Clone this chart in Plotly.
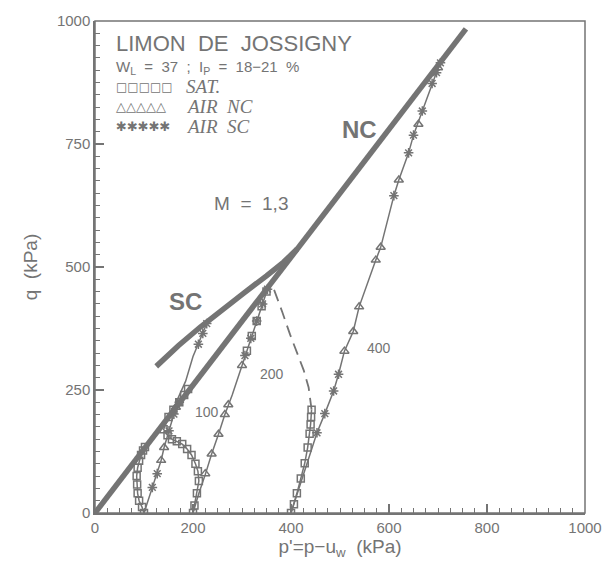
import plotly.graph_objects as go

GRAY = "#747474"
NB = "\u00a0"

# Critical state line NC (M = 1.3)
nc_p = [0, 757]
nc_q = [0, 984]

# SC envelope
sc_p = [125, 170, 215, 260, 305, 350, 385, 412]
sc_q = [298, 340, 378, 414, 448, 482, 510, 536]

# Air tests (drained, slope 3) with p0 = 100, 200, 400
air100_p = [100, 117, 127, 135, 141, 151, 161, 167, 185, 200, 211, 220, 228]
air100_q = [0, 52, 80, 107, 133, 167, 201, 228, 268, 318, 343, 365, 385]
air200_p = [200, 212, 225, 238, 252, 265, 280, 295, 306, 318, 330, 342, 352, 358]
air200_q = [0, 40, 78, 120, 160, 200, 240, 285, 320, 355, 390, 425, 455, 466]
air400_p = [400, 453, 469, 487, 497, 509, 527, 539, 573, 583, 610, 620, 640, 650, 668, 688, 697, 703]
air400_q = [0, 163, 202, 248, 282, 329, 369, 419, 514, 540, 645, 677, 732, 768, 817, 873, 895, 912]

# Air NC markers (triangles)
tri_p = [135, 141, 165, 225, 238, 252, 265, 272, 300, 509, 527, 539, 573, 583, 620, 660, 700]
tri_q = [107, 133, 215, 80, 120, 160, 200, 220, 300, 329, 369, 419, 514, 540, 677, 790, 905]
# Air SC markers (asterisks)
star_p = [117, 127, 151, 161, 172, 211, 220, 228, 306, 318, 330, 342, 352, 453, 469, 487, 497, 610, 640, 650, 668, 688, 697, 705]
star_q = [52, 80, 167, 201, 225, 343, 365, 385, 320, 355, 390, 425, 455, 163, 202, 248, 282, 645, 732, 768, 817, 873, 895, 915]

# Saturated (undrained) paths
sat100_p = [100, 96, 90, 87, 86, 85, 87, 90, 94, 98, 102]
sat100_q = [0, 12, 25, 40, 58, 75, 92, 106, 118, 127, 134]
sat200_p = [200, 203, 208, 212, 210, 205, 197, 188, 178, 167, 157, 148, 140, 150, 160, 172, 182, 190]
sat200_q = [0, 15, 40, 65, 85, 100, 118, 130, 140, 146, 150, 158, 170, 195, 210, 225, 240, 252]
sat200b_p = [310, 320, 330, 340, 350]
sat200b_q = [330, 360, 390, 420, 450]
sat400_p = [400, 406, 412, 420, 428, 434, 438, 440, 441, 442]
sat400_q = [0, 18, 40, 70, 101, 133, 161, 180, 195, 210]
dash400_p = [442, 436, 426, 414, 398, 382, 365]
dash400_q = [210, 255, 290, 320, 363, 409, 455]

x_ticks = [0, 200, 400, 600, 800, 1000]
y_ticks = [0, 250, 500, 750, 1000]

fig = go.Figure()

def line(p, q, width, dash="solid"):
    fig.add_trace(go.Scatter(x=p, y=q, mode="lines",
                             line=dict(color=GRAY, width=width, dash=dash),
                             showlegend=False, hoverinfo="skip"))

def marks(p, q, symbol, size=8):
    fig.add_trace(go.Scatter(x=p, y=q, mode="markers",
                             marker=dict(symbol=symbol, size=size, color=GRAY,
                                         line=dict(color=GRAY, width=1.5)),
                             showlegend=False, hoverinfo="skip"))

line(nc_p, nc_q, 5.5)
line(sc_p, sc_q, 5.5)
line(air100_p, air100_q, 1.5)
line(air200_p, air200_q, 1.5)
line(air400_p, air400_q, 1.5)
line(sat100_p, sat100_q, 1.5)
line(sat200_p, sat200_q, 1.5)
line(sat400_p, sat400_q, 1.5)
line(dash400_p, dash400_q, 1.8, dash="12px,7px")

marks(sat100_p, sat100_q, "square-open", 7)
marks(sat200_p, sat200_q, "square-open", 7)
marks(sat200b_p, sat200b_q, "square-open", 7)
marks(sat400_p, sat400_q, "square-open", 7)
marks(tri_p, tri_q, "triangle-up-open", 8)
marks(star_p, star_q, "asterisk-open", 8)

def txt(x, y, s, size, family="Liberation Sans, Arial", xanchor="left"):
    fig.add_annotation(x=x, y=y, text=s, showarrow=False, xanchor=xanchor,
                       yanchor="middle", font=dict(size=size, color=GRAY, family=family))

def sp(s):
    return s.replace(" ", NB)

txt(38, 954, sp("LIMON  DE  JOSSIGNY"), 22)
txt(38, 906, "W<sub>L</sub>" + sp("  =  37  ;  ") + "I<sub>P</sub>" + sp("  =  18−21  %"), 15)
txt(38, 866, "□□□□□", 12, family="DejaVu Sans")
txt(38, 826, "△△△△△", 13, family="DejaVu Sans")
txt(38, 786, "✱✱✱✱✱", 13, family="DejaVu Sans")
txt(182, 866, "<i>SAT.</i>", 19, family="Liberation Serif")
txt(182, 826, "<i>" + sp("AIR  NC") + "</i>", 19, family="Liberation Serif")
txt(182, 786, "<i>" + sp("AIR  SC") + "</i>", 19, family="Liberation Serif")
txt(540, 780, "<b>NC</b>", 24, xanchor="center")
txt(185, 430, "<b>SC</b>", 24, xanchor="center")
txt(318, 630, sp("M  =  1,3"), 19, xanchor="center")
txt(228, 205, "100", 14, xanchor="center")
txt(362, 283, "200", 14, xanchor="center")
txt(580, 335, "400", 14, xanchor="center")

axis_common = dict(showgrid=False, zeroline=False, showline=True, linecolor=GRAY,
                   linewidth=1.5, ticks="inside", tickcolor=GRAY, ticklen=9,
                   tickwidth=1.5, tickfont=dict(size=15, color=GRAY,
                                                family="Liberation Sans, Arial"),
                   minor=dict(ticks="inside", dtick=25, ticklen=5, tickcolor=GRAY,
                              tickwidth=1.2))

fig.update_xaxes(range=[0, 1000], tickvals=x_ticks,
                 title=dict(text="p'=p−u<sub>w</sub>" + sp("  (kPa)"), standoff=4,
                            font=dict(size=19, color=GRAY, family="Liberation Sans, Arial")),
                 **axis_common)
fig.update_yaxes(range=[0, 1000], tickvals=y_ticks,
                 title=dict(text=sp("q  (kPa)"), standoff=14,
                            font=dict(size=19, color=GRAY, family="Liberation Sans, Arial")),
                 **axis_common)

fig.add_shape(type="rect", xref="paper", yref="paper", x0=0, y0=0, x1=1, y1=1,
              line=dict(color=GRAY, width=1.5))

fig.update_layout(width=614, height=568, plot_bgcolor="white", paper_bgcolor="white",
                  margin=dict(l=95, r=22, t=15, b=55), showlegend=False)

fig.write_html("out.html")
